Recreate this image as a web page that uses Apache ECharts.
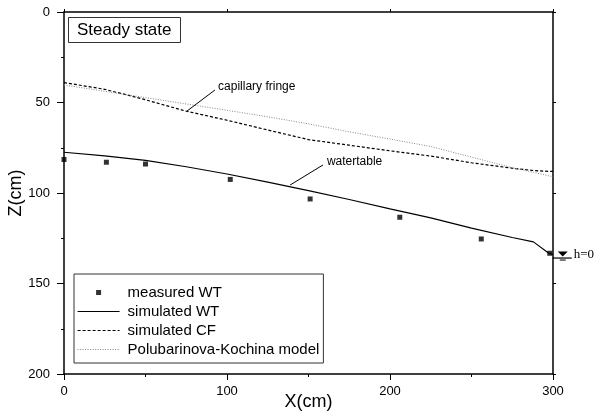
<!DOCTYPE html>
<html>
<head>
<meta charset="utf-8">
<script src="https://cdn.jsdelivr.net/npm/echarts@6/dist/echarts.min.js"></script>
<style>
html, body { margin: 0; padding: 0; background: #fff; }
#main { width: 595px; height: 414px; }
</style>
</head>
<body>
<div id="main"></div>
<script>
// measured water table (points)
const xMeasured = [0, 26, 50, 102, 151, 206, 256, 298];
const zMeasured = [81.5, 83, 84, 92.5, 103.3, 113.4, 125.4, 133.3];

// simulated curves share the same x positions
const xSim = [0, 25, 50, 75, 100, 125, 150, 175, 200, 225, 250, 275, 288, 297, 300];
const zWT  = [77.5, 79.5, 82, 85.5, 89.5, 94, 98.7, 103.6, 108.8, 113.7, 119.4, 124.6, 127, 133, 134];
const zCF  = [39, 42.7, 48.5, 54.8, 59.8, 65.2, 70.5, 73.6, 76.7, 79.6, 83.3, 86.3, 87.6, 88, 88];
const zPK  = [40.3, 43.8, 47.3, 50.8, 54.3, 57.9, 61.8, 66.2, 70.2, 74.3, 80.2, 86, 88.6, 90.4, 91];

const seriesNames = ['measured WT', 'simulated WT', 'simulated CF', 'Polubarinova-Kochina model'];
const xTicks = [0, 100, 200, 300];
const zTicks = [0, 50, 100, 150, 200];

const FONT = "'Liberation Sans', Arial, sans-serif";

const zip = (xs, ys) => xs.map((x, i) => [x, ys[i]]);

let chart = echarts.init(document.getElementById('main'), null, { renderer: 'canvas' });

const axisLine = { show: true, onZero: false, lineStyle: { color: '#000', width: 1.5 } };

let option = {
    animation: false,
    backgroundColor: '#fff',
    title: {
        text: 'Steady state',
        left: 68,
        top: 17,
        padding: [3, 9, 3, 9],
        borderColor: '#333',
        borderWidth: 1,
        textStyle: { fontSize: 17, lineHeight: 20, fontWeight: 'normal', color: '#000', fontFamily: FONT }
    },
    legend: {
        data: [
            // small square for the points, plain lines for the curves
            { name: seriesNames[0], icon: 'path://M0,0L1,0L1,1L0,1Z' },
            { name: seriesNames[1], itemStyle: { opacity: 0 } },
            { name: seriesNames[2], itemStyle: { opacity: 0 } },
            { name: seriesNames[3], itemStyle: { opacity: 0 } }
        ],
        orient: 'vertical',
        left: 74,
        top: 274,
        itemWidth: 42,
        itemHeight: 5,
        itemGap: 2,
        padding: [10, 4, 5, 3],
        borderColor: '#333',
        borderWidth: 1,
        selectedMode: false,
        symbolKeepAspect: true,
        lineStyle: { width: 'inherit' },
        textStyle: { fontSize: 15, lineHeight: 17, color: '#000', fontFamily: FONT, padding: [0, 0, 0, 3] }
    },
    grid: { left: 64, right: 42, top: 12, bottom: 40, containLabel: false, outerBoundsMode: 'none' },
    xAxis: [
        {
            type: 'value', position: 'bottom',
            min: xTicks[0], max: xTicks[xTicks.length - 1], interval: 100,
            name: 'X(cm)', nameLocation: 'middle', nameGap: 19, nameMoveOverlap: false,
            nameTextStyle: { fontSize: 18, color: '#000', fontFamily: FONT },
            axisLine: axisLine,
            axisTick: { show: true, inside: false, length: 6, lineStyle: { color: '#000', width: 1 } },
            minorTick: { show: true, splitNumber: 2, length: 3, lineStyle: { color: '#000', width: 1 } },
            axisLabel: { fontSize: 13, color: '#000', fontFamily: FONT, margin: 11 },
            splitLine: { show: false }
        },
        {
            type: 'value', position: 'top',
            min: 0, max: 300, interval: 100,
            axisLine: axisLine,
            axisTick: { show: true, inside: false, length: 3, lineStyle: { color: '#000' } },
            axisLabel: { show: false },
            splitLine: { show: false }
        }
    ],
    yAxis: [
        {
            type: 'value', position: 'left', inverse: true,
            min: zTicks[0], max: zTicks[zTicks.length - 1], interval: 50,
            name: 'Z(cm)', nameLocation: 'middle', nameGap: 39, nameMoveOverlap: false,
            nameTextStyle: { fontSize: 18, color: '#000', fontFamily: FONT },
            axisLine: axisLine,
            axisTick: { show: true, inside: false, length: 7, lineStyle: { color: '#000', width: 1 } },
            minorTick: { show: true, splitNumber: 2, length: 3, lineStyle: { color: '#000', width: 1 } },
            axisLabel: { fontSize: 13, color: '#000', fontFamily: FONT, margin: 14 },
            splitLine: { show: false }
        },
        {
            type: 'value', position: 'right', inverse: true,
            min: 0, max: 200, interval: 50,
            axisLine: axisLine,
            axisTick: { show: true, inside: false, length: 3, lineStyle: { color: '#000' } },
            axisLabel: { show: false },
            splitLine: { show: false }
        }
    ],
    series: [
        {
            name: seriesNames[0],
            type: 'scatter',
            data: zip(xMeasured, zMeasured),
            symbol: 'rect',
            symbolSize: 5,
            itemStyle: { color: '#000' },
            z: 5
        },
        {
            name: seriesNames[1],
            type: 'line',
            data: zip(xSim, zWT),
            symbol: 'none',
            itemStyle: { color: '#000' },
            lineStyle: { color: '#000', width: 1.2 },
            markLine: {
                silent: true,
                symbol: ['none', 'arrow'],
                symbolSize: [0, 9],
                label: { show: false },
                lineStyle: { color: '#000', width: 1, type: 'solid' },
                data: [[{ coord: [158.9, 84.5] }, { coord: [138.7, 95.6] }]]
            }
        },
        {
            name: seriesNames[2],
            type: 'line',
            data: zip(xSim, zCF),
            symbol: 'none',
            itemStyle: { color: '#000' },
            lineStyle: { color: '#000', width: 1.2, type: [3, 2] },
            markLine: {
                silent: true,
                symbol: ['none', 'arrow'],
                symbolSize: [0, 9],
                label: { show: false },
                lineStyle: { color: '#000', width: 1, type: 'solid' },
                data: [[{ coord: [92.6, 43.1] }, { coord: [75.5, 54.7] }]]
            }
        },
        {
            name: seriesNames[3],
            type: 'line',
            data: zip(xSim, zPK),
            symbol: 'none',
            itemStyle: { color: '#888' },
            lineStyle: { color: '#888', width: 1, type: [1, 1.5] }
        }
    ]
};
chart.setOption(option);

// text notes and the h=0 water level sign, placed through the axes
const notes = [
    { text: 'capillary fringe', at: [94.5, 41.4] },
    { text: 'watertable', at: [161.3, 82.9] }
];
let graphics = notes.map(n => {
    let p = chart.convertToPixel({ gridIndex: 0 }, n.at);
    return {
        type: 'text', x: p[0], y: p[1],
        style: { text: n.text, fill: '#000', font: '12px ' + FONT, textVerticalAlign: 'middle' }
    };
});
let w = chart.convertToPixel({ gridIndex: 0 }, [306, 134]);
graphics.push({
    type: 'group', x: w[0], y: w[1],
    children: [
        { type: 'polygon', shape: { points: [[-5, -3], [5, -3], [0, 2]] }, style: { fill: '#000' } },
        { type: 'line', shape: { x1: -10, y1: 3.5, x2: 9, y2: 3.5 }, style: { stroke: '#000', lineWidth: 1.2 } },
        { type: 'line', shape: { x1: -3, y1: 5.5, x2: 3, y2: 5.5 }, style: { stroke: '#000', lineWidth: 1 } },
        { type: 'text', x: 11, y: 0, style: { text: 'h=0', fill: '#000', font: "13px 'Liberation Serif', 'DejaVu Serif', serif", textVerticalAlign: 'middle' } }
    ]
});
chart.setOption({ graphic: graphics });
</script>
</body>
</html>
